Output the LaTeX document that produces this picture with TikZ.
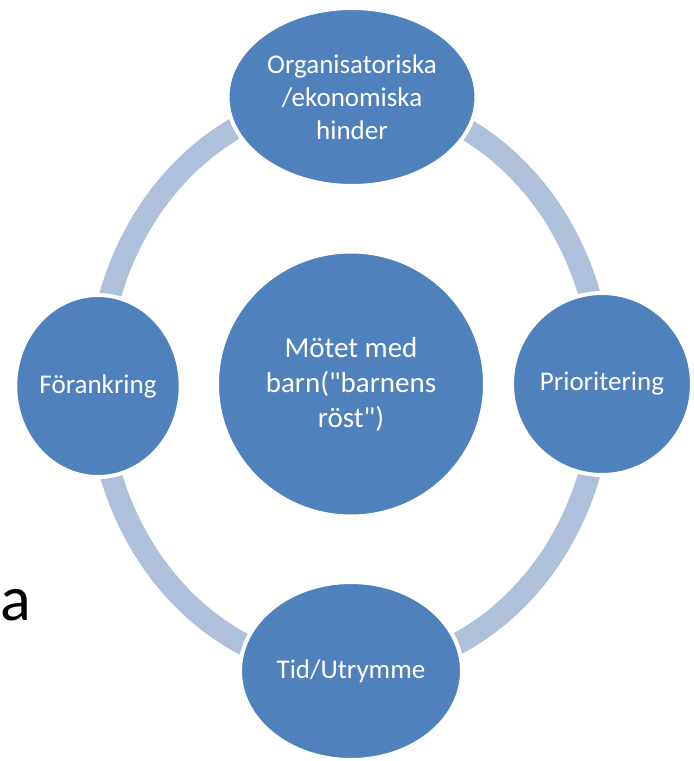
\documentclass[tikz,border=0pt]{standalone}
\usepackage{fontspec}
\newfontfamily\calfont{Carlito}
\usetikzlibrary{shapes.geometric}
\definecolor{nodeblue}{HTML}{4F81BD}
\definecolor{ringblue}{HTML}{AFC0DA}
\tikzset{
  bubble/.style={ellipse, fill=nodeblue, draw=white, line width=4pt, inner sep=0pt,
    text=white, align=center, font=\calfont\fontsize{27}{33}\selectfont},
  ring/.style={draw=ringblue, line width=22pt}
}
\begin{document}
\begin{tikzpicture}[x=1pt,y=-1pt]
\useasboundingbox (0,0) rectangle (694,761);
\fill[white] (0,0) rectangle (694,761);
\coordinate (ringc) at (350,384);
\draw[ring] (ringc) ellipse [x radius=252, y radius=287];
\node[bubble, minimum width=249pt, minimum height=178pt] (top) at (352,97) {Organisatoriska\\/ekonomiska\\hinder};
\node[bubble, minimum width=162pt, minimum height=182pt] (left) at (98,386) {Förankring};
\node[bubble, minimum width=180pt, minimum height=182pt] (right) at (602,384) {Prioritering};
\node[bubble, minimum width=222pt, minimum height=178pt] (bottom) at (351,671) {Tid/Utrymme};
\node[bubble, minimum width=268pt, minimum height=265pt, font=\calfont\fontsize{29}{35}\selectfont] (center) at (351,384) {Mötet med\\barn("barnens\\röst")};
\node[anchor=base west, inner sep=0pt, font=\calfont\fontsize{64}{70}\selectfont] (a) at (0,620) {a};
\end{tikzpicture}
\end{document}
